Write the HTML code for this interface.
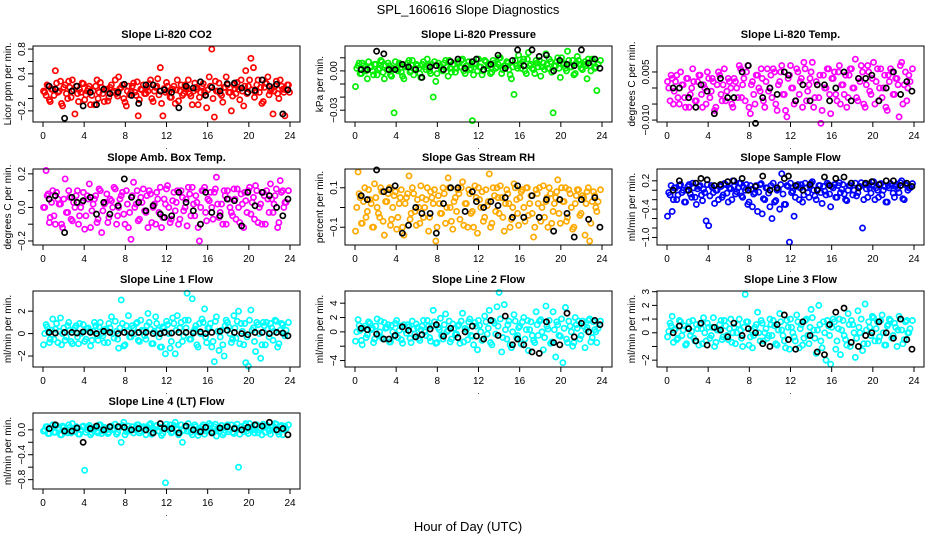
<!DOCTYPE html>
<html><head><meta charset="utf-8"><style>
body{margin:0;background:#fff;}
svg{display:block;font-family:"Liberation Sans",sans-serif;}
</style></head><body>
<svg id="chart" width="936" height="540" viewBox="0 0 936 540" xmlns="http://www.w3.org/2000/svg">
<text x="468" y="14" font-size="13" text-anchor="middle">SPL_160616  Slope Diagnostics</text>
<text x="468" y="531" font-size="13" text-anchor="middle">Hour of Day (UTC)</text>
</svg>
<script>
const hoursC=[0.05,0.3,0.5,0.7,0.95,1.2,1.45,1.7,1.9,2.15,2.4,2.6,2.85,3.1,3.35,3.55,3.8,4.05,4.3,4.5,4.75,5.0,5.25,5.45,5.7,5.95,6.2,6.4,6.65,6.9,7.15,7.35,7.6,7.85,8.1,8.3,8.55,8.8,9.05,9.25,9.5,9.75,10.0,10.2,10.45,10.7,10.95,11.15,11.4,11.65,11.9,12.1,12.35,12.6,12.85,13.05,13.3,13.55,13.8,14.0,14.25,14.5,14.75,14.95,15.2,15.45,15.7,15.9,16.15,16.4,16.65,16.85,17.1,17.35,17.6,17.8,18.05,18.3,18.55,18.75,19.0,19.25,19.5,19.7,19.95,20.2,20.45,20.65,20.9,21.15,21.4,21.6,21.85,22.1,22.35,22.55,22.8,23.05,23.3,23.5,23.75,23.95];
const hoursC2=[0.17,0.4,0.62,0.83,1.07,1.32,1.57,1.8,2.02,2.27,2.5,2.73,2.97,3.22,3.45,3.67,3.92,4.17,4.4,4.62,4.87,5.12,5.35,5.57,5.82,6.07,6.3,6.52,6.77,7.02,7.25,7.47,7.72,7.97,8.2,8.42,8.67,8.92,9.15,9.37,9.62,9.87,10.1,10.32,10.57,10.82,11.05,11.27,11.52,11.77,12.0,12.22,12.47,12.72,12.95,13.17,13.42,13.67,13.9,14.12,14.37,14.62,14.85,15.07,15.32,15.57,15.8,16.02,16.27,16.52,16.75,16.97,17.22,17.47,17.7,17.92,18.17,18.42,18.65,18.87,19.12,19.37,19.6,19.82,20.07,20.32,20.55,20.77,21.02,21.27,21.5,21.72,21.97,22.22,22.45,22.67,22.92,23.17,23.4,23.62,23.85];
const hoursB=[0.6,1.2,2.1,2.8,3.3,3.9,4.6,5.2,5.9,6.5,7.3,7.9,8.6,9.3,10.0,10.7,11.4,11.8,12.5,13.2,13.9,14.6,15.3,15.8,16.4,17.2,17.9,18.6,19.3,19.9,20.6,21.3,22.0,22.7,23.3,23.8];
const xTicks=[0,4,8,12,16,20,24];

const co2=[0.12,0.05,0.2,-0.05,0.15,0.45,0.1,0.28,-0.12,0.22,0.0,0.18,0.3,-0.25,0.08,0.15,0.25,-0.02,0.12,0.2,0.05,-0.1,0.3,0.1,0.18,-0.05,0.15,0.02,0.22,0.12,0.08,0.35,0.18,0.0,-0.12,0.2,0.1,0.25,0.05,-0.28,0.15,0.22,0.08,0.12,0.3,-0.05,0.18,0.32,0.5,-0.28,0.1,0.2,0.02,0.15,-0.08,0.3,0.12,0.05,0.22,0.18,0.08,-0.1,0.25,0.15,0.02,0.2,0.1,-0.15,0.35,0.8,-0.3,0.12,0.25,0.05,0.18,0.35,0.1,-0.2,0.22,0.08,0.15,0.3,-0.12,0.45,0.2,0.65,0.5,0.1,0.3,0.18,-0.05,0.25,0.35,0.12,-0.25,0.2,0.08,0.3,0.15,-0.28,0.22,0.1];
const co2S2=[0.1,0.22,-0.02,0.15,0.05,0.25,0.12,-0.08,0.18,0.08,0.28,0.02,0.14,0.2,-0.05,0.1,0.24,0.06,0.16,-0.1,0.12,0.2,0.0,0.26,0.08,0.14,-0.04,0.18,0.1,0.3,0.04,0.16,0.22,-0.06,0.12,0.06,0.2,0.1,0.27,-0.02,0.14,0.08,0.18,0.24,0.0,0.12,0.2,0.06,-0.08,0.16,0.26,0.1,0.02,0.2,0.14,-0.04,0.22,0.08,0.16,0.3,0.04,0.12,0.18,-0.1,0.1,0.24,0.06,0.14,0.2,0.0,0.28,0.12,0.08,-0.06,0.18,0.22,0.1,0.04,0.16,0.26,-0.02,0.12,0.2,0.08,0.3,0.14,0.02,0.22,0.1,-0.08,0.18,0.24,0.06,0.16,0.12,0.28,0.0,0.2,0.1,0.14,0.22];
const co2B=[0.2,0.15,-0.32,0.12,0.2,-0.12,0.1,-0.1,0.15,0.08,0.1,0.23,0.05,-0.08,0.22,0.22,0.12,0.14,0.1,-0.15,0.2,0.17,0.27,0.05,0.18,0.12,0.24,0.25,0.17,0.1,0.13,0.3,0.2,0.23,-0.25,0.14];
const pres=[-0.012,0.004,-0.002,0.006,0.001,-0.006,0.003,0.0,0.005,-0.003,0.002,0.007,-0.006,0.001,0.004,-0.004,-0.032,0.002,0.006,-0.001,-0.006,0.003,0.008,0.0,-0.003,0.005,0.002,-0.005,0.007,0.001,0.004,-0.002,-0.02,-0.008,0.006,0.003,0.0,0.008,-0.004,0.002,0.005,-0.001,0.007,0.003,0.009,-0.002,0.004,0.001,-0.038,0.006,0.0,0.003,-0.003,0.008,0.002,0.005,-0.001,0.006,0.003,0.01,-0.002,0.004,0.007,0.001,-0.006,-0.018,0.004,0.012,0.002,0.009,-0.002,0.014,0.005,0.001,0.008,0.003,-0.004,0.006,0.013,0.002,0.007,-0.032,0.004,0.01,-0.005,0.006,0.002,0.015,0.003,0.008,-0.002,0.011,0.005,0.001,0.007,-0.006,0.004,0.009,0.002,-0.015];
const presS2=[0.002,0.006,-0.002,0.004,0.0,0.007,0.003,-0.003,0.005,0.001,0.008,-0.001,0.004,0.006,-0.003,0.002,0.007,0.0,0.005,-0.004,0.003,0.006,-0.001,0.008,0.002,0.004,-0.002,0.005,0.003,0.009,0.0,0.005,0.007,-0.002,0.004,0.001,0.006,0.003,0.008,-0.001,0.005,0.002,0.006,0.008,0.0,0.004,0.007,0.002,-0.003,0.005,0.009,0.003,0.0,0.007,0.004,-0.002,0.008,0.002,0.005,0.01,0.001,0.004,0.006,-0.003,0.003,0.008,0.002,0.005,0.007,0.0,0.009,0.004,0.002,-0.002,0.006,0.008,0.003,0.001,0.005,0.009,-0.001,0.004,0.007,0.002,0.01,0.005,0.0,0.008,0.003,-0.003,0.006,0.008,0.002,0.005,0.004,0.009,0.0,0.007,0.003,0.005,0.008];
const presB=[0.001,0.001,0.015,0.013,0.001,0.001,0.005,0.003,0.001,-0.005,0.003,0.004,0.001,0.007,0.009,0.002,0.007,0.009,0.001,0.005,0.012,0.002,0.008,0.016,0.004,0.016,0.011,0.012,0.0,0.008,0.005,0.004,0.016,0.006,0.009,0.002];
const temp=[0.002,-0.004,0.003,-0.001,0.004,-0.005,0.001,-0.003,0.003,-0.006,0.0,0.002,-0.004,0.004,-0.002,0.001,-0.005,0.003,-0.001,0.002,-0.006,0.005,-0.002,0.001,-0.004,0.003,0.0,-0.006,0.002,-0.003,0.006,0.001,-0.004,0.007,-0.008,0.002,-0.005,0.004,-0.001,0.003,-0.006,0.006,0.0,-0.003,0.005,-0.007,0.002,0.007,-0.002,-0.009,0.004,0.0,-0.005,0.006,-0.002,0.003,0.008,-0.004,0.001,0.005,-0.006,0.002,-0.003,-0.011,0.004,0.0,0.006,-0.008,0.003,-0.002,0.005,-0.005,0.001,0.004,-0.003,0.006,0.0,0.009,-0.004,0.002,0.005,-0.006,0.007,-0.001,0.003,-0.005,0.006,0.0,-0.003,0.004,-0.007,0.002,0.005,-0.002,0.003,-0.009,0.008,0.001,-0.004,0.004];
const tempS2=[0.0,0.004,-0.005,0.002,-0.003,0.005,0.001,-0.006,0.003,-0.002,0.006,-0.004,0.002,0.004,-0.006,0.0,0.005,-0.003,0.003,-0.007,0.001,0.004,-0.004,0.006,-0.001,0.002,-0.005,0.003,0.0,0.007,-0.003,0.003,0.005,-0.006,0.001,-0.002,0.004,0.0,0.006,-0.004,0.002,-0.001,0.004,0.006,-0.005,0.001,0.005,-0.002,-0.007,0.003,0.007,0.0,-0.004,0.005,0.002,-0.006,0.006,-0.001,0.003,0.008,-0.003,0.001,0.004,-0.007,0.0,0.006,-0.002,0.003,0.005,-0.004,0.007,0.001,-0.002,-0.006,0.004,0.006,0.0,-0.003,0.003,0.007,-0.005,0.001,0.005,-0.002,0.008,0.002,-0.004,0.006,0.0,-0.006,0.004,0.006,-0.002,0.003,0.001,0.007,-0.005,0.005,0.0,0.002,0.006];
const tempB=[0.0,0.0,-0.003,-0.006,0.001,-0.001,-0.008,0.003,-0.003,-0.003,0.005,0.007,-0.011,-0.003,0.0,-0.002,0.005,0.004,-0.004,0.001,-0.004,0.001,0.001,-0.004,0.0,0.005,-0.004,0.003,0.003,0.004,-0.004,0.0,0.005,-0.002,0.002,-0.001];
const amb=[0.0,0.22,0.08,-0.06,0.1,-0.1,0.05,0.02,-0.12,0.17,-0.03,0.06,-0.08,0.0,0.1,-0.05,0.03,-0.13,0.07,0.14,-0.02,0.05,-0.09,0.11,-0.15,0.02,0.08,-0.06,0.04,0.12,-0.1,0.0,0.07,-0.04,0.1,-0.12,-0.19,0.15,0.02,-0.08,0.06,0.11,-0.03,-0.12,0.08,0.0,-0.1,0.05,0.12,-0.06,0.02,0.13,-0.09,0.04,-0.02,0.1,-0.07,0.06,0.0,-0.11,0.08,0.12,-0.05,0.03,-0.2,0.1,0.12,-0.08,0.04,0.0,0.09,0.18,-0.06,0.02,0.1,-0.1,0.05,-0.03,0.11,-0.07,0.0,0.08,-0.12,0.04,0.1,-0.04,0.06,0.13,-0.09,0.02,0.09,-0.1,0.05,0.14,-0.03,0.07,-0.12,0.16,0.1,0.03];
const ambS2=[0.0,0.07,-0.09,0.03,-0.05,0.09,0.02,-0.1,0.05,-0.03,0.1,-0.07,0.03,0.07,-0.1,0.0,0.09,-0.05,0.05,-0.12,0.02,0.07,-0.07,0.1,-0.02,0.03,-0.09,0.05,0.0,0.11,-0.05,0.05,0.09,-0.1,0.02,-0.03,0.07,0.0,0.1,-0.07,0.03,-0.02,0.07,0.1,-0.09,0.02,0.09,-0.03,-0.12,0.05,0.11,0.0,-0.07,0.09,0.03,-0.1,0.1,-0.02,0.05,0.12,-0.05,0.02,0.07,-0.12,0.0,0.1,-0.03,0.05,0.09,-0.07,0.11,0.02,-0.03,-0.1,0.07,0.1,0.0,-0.05,0.05,0.11,-0.09,0.02,0.09,-0.03,0.12,0.03,-0.07,0.1,0.0,-0.1,0.07,0.1,-0.03,0.05,0.02,0.11,-0.09,0.09,0.0,0.03,0.1];
const ambB=[0.05,0.07,-0.15,0.06,0.03,0.04,0.06,-0.04,0.03,-0.04,0.01,0.17,0.06,0.03,-0.02,0.01,-0.04,-0.06,-0.05,0.09,0.03,-0.02,-0.1,0.09,-0.03,-0.05,0.05,0.04,-0.11,0.09,0.01,0.09,0.07,0.0,-0.05,0.05];
const rh=[-0.12,0.18,0.05,-0.08,0.1,-0.02,0.04,-0.1,0.12,0.0,-0.05,0.08,-0.14,0.03,0.1,-0.06,0.06,-0.11,0.02,0.09,-0.14,0.05,0.16,-0.03,0.07,-0.09,0.0,0.11,-0.05,0.04,-0.12,0.08,0.02,-0.17,0.06,-0.03,0.1,-0.08,0.15,0.0,-0.11,0.05,0.09,-0.06,0.13,0.02,-0.1,0.07,-0.02,0.11,-0.13,0.04,0.08,-0.05,0.01,0.17,-0.08,0.06,0.1,-0.03,0.05,-0.12,0.09,0.02,-0.06,0.12,0.04,-0.09,0.08,0.0,0.1,-0.04,0.06,-0.15,0.09,0.02,-0.07,0.11,0.03,-0.1,0.07,-0.02,0.05,0.14,-0.08,0.03,0.1,-0.05,0.07,-0.11,0.02,0.09,-0.04,0.06,-0.14,0.08,-0.17,0.03,0.06,-0.02];
const rhS2=[0.0,0.07,-0.08,0.03,-0.05,0.09,0.02,-0.1,0.05,-0.03,0.1,-0.07,0.03,0.07,-0.09,0.0,0.08,-0.05,0.05,-0.1,0.02,0.07,-0.06,0.1,-0.02,0.04,-0.08,0.05,0.0,0.1,-0.05,0.05,0.09,-0.1,0.02,-0.03,0.07,0.0,0.1,-0.07,0.03,-0.02,0.07,0.1,-0.09,0.02,0.09,-0.03,-0.1,0.05,0.1,0.0,-0.07,0.09,0.03,-0.1,0.1,-0.02,0.05,0.11,-0.05,0.02,0.07,-0.1,0.0,0.1,-0.03,0.05,0.09,-0.07,0.1,0.02,-0.03,-0.1,0.07,0.1,0.0,-0.05,0.05,0.1,-0.08,0.02,0.08,-0.03,0.1,0.03,-0.07,0.09,0.0,-0.1,0.06,0.09,-0.03,0.05,0.02,0.1,-0.08,0.08,0.0,0.03,0.09];
const rhB=[0.06,0.04,0.19,0.08,0.09,0.11,-0.13,-0.09,0.0,-0.03,-0.03,-0.13,0.02,0.1,0.1,-0.02,0.08,0.03,0.0,0.03,0.01,0.05,-0.05,0.11,-0.05,0.06,-0.05,0.04,-0.12,0.04,-0.03,-0.15,0.04,-0.06,0.05,-0.1];
const sflow=[-0.55,-0.1,-0.45,0.05,-0.2,0.1,-0.05,-0.25,0.0,0.12,-0.15,0.05,-0.3,0.08,-0.1,0.02,-0.65,-0.75,0.1,-0.05,0.0,-0.2,0.08,-0.1,0.12,-0.25,0.03,0.2,-0.08,0.05,0.15,-0.15,0.0,-0.3,0.1,-0.35,-0.05,-0.45,0.12,-0.5,-0.2,0.05,-0.35,-0.6,-0.25,0.0,-0.4,0.35,-0.3,0.1,-1.1,-0.05,-0.55,0.08,-0.2,0.12,-0.1,0.05,-0.15,0.15,0.0,-0.2,0.1,-0.05,0.08,-0.1,0.12,-0.35,0.05,-0.15,0.1,-0.05,0.12,-0.2,0.0,0.1,-0.1,0.15,-0.05,0.08,-0.8,0.12,-0.15,0.05,0.1,-0.2,0.0,0.12,-0.1,0.08,-0.25,0.05,0.1,-0.15,0.12,-0.05,0.2,-0.2,0.1,0.05];
const sflowS2=[-0.05,0.1,-0.2,0.05,-0.1,0.12,0.0,-0.25,0.08,-0.08,0.15,-0.15,0.03,0.1,-0.22,-0.05,0.12,-0.12,0.06,-0.28,0.0,0.1,-0.15,0.14,-0.06,0.05,-0.2,0.08,-0.03,0.15,-0.12,0.06,0.12,-0.25,0.02,-0.08,0.1,-0.04,0.14,-0.18,0.05,-0.06,0.1,0.15,-0.22,0.02,0.12,-0.08,-0.3,0.08,0.15,-0.02,-0.15,0.12,0.05,-0.25,0.15,-0.05,0.08,0.18,-0.12,0.02,0.1,-0.28,-0.02,0.15,-0.08,0.08,0.12,-0.15,0.16,0.02,-0.08,-0.22,0.1,0.15,0.0,-0.12,0.06,0.16,-0.2,0.03,0.12,-0.06,0.18,0.05,-0.15,0.14,0.0,-0.25,0.1,0.14,-0.06,0.08,0.04,0.16,-0.18,0.12,0.0,0.05,0.14];
const sflowB=[0.0,0.2,0.0,0.15,0.25,0.22,0.1,0.12,0.18,0.2,0.25,0.0,0.08,0.3,0.0,0.05,0.25,0.3,0.1,0.0,0.12,0.0,0.28,0.1,0.25,0.28,0.15,0.05,0.15,0.18,0.12,0.2,0.2,0.1,0.15,0.08];
const line1=[-1.0,0.8,0.2,-0.5,1.3,0.4,-0.8,1.4,0.0,-0.6,0.7,0.3,-0.9,0.5,-0.3,0.9,0.1,-0.7,0.4,0.2,-0.6,1.0,-0.2,0.6,0.0,-0.8,0.3,0.9,1.5,-0.4,0.2,-1.3,3.0,-1.1,0.7,1.6,-0.3,0.5,0.9,-0.6,1.2,0.2,-0.5,1.8,0.4,-0.9,1.5,0.3,-1.2,0.6,-1.8,0.8,-1.3,1.4,-1.8,1.6,0.5,-0.7,1.2,3.6,-0.5,3.1,0.4,-1.0,0.9,1.3,2.2,-0.8,0.5,-1.2,-2.5,1.5,-1.5,0.3,-2.0,1.2,0.6,-0.8,1.6,-0.4,2.0,0.9,-1.0,-2.6,-2.9,2.1,0.5,-1.6,0.8,-2.2,1.0,-1.0,0.4,0.9,-0.6,1.2,-1.2,0.3,0.8,-0.2];
const line1S2=[0.0,0.6,-0.8,0.3,-0.5,0.9,0.2,-1.0,0.5,-0.3,1.0,-0.7,0.3,0.7,-0.9,0.0,0.8,-0.5,0.5,-1.1,0.2,0.7,-0.6,1.0,-0.2,0.4,-0.8,0.5,0.0,1.1,-0.5,0.5,0.9,-1.0,0.2,-0.3,0.7,0.0,1.0,-0.7,0.3,-0.2,0.7,1.0,-0.9,0.2,0.9,-0.3,-1.2,0.5,1.1,0.0,-0.7,0.9,0.3,-1.0,1.0,-0.2,0.5,1.2,-0.5,0.2,0.7,-1.2,0.0,1.0,-0.3,0.5,0.9,-0.7,1.1,0.2,-0.3,-1.0,0.7,1.0,0.0,-0.5,0.5,1.1,-0.9,0.2,0.9,-0.3,1.2,0.3,-0.7,1.0,0.0,-1.0,0.7,1.0,-0.3,0.5,0.2,1.1,-0.9,0.9,0.0,0.3,1.0];
const line1B=[0.1,0.05,0.1,0.1,0.05,0.15,0.1,0.0,0.2,0.1,0.0,0.1,0.05,0.1,0.1,0.0,0.0,0.1,0.05,0.1,0.1,0.05,0.15,0.0,0.1,0.2,0.3,0.1,0.0,-0.1,0.1,0.1,0.0,0.1,0.05,-0.2];
const line2=[-1.3,1.7,0.2,-1.8,0.8,-0.4,1.2,0.5,-1.0,1.8,0.0,-0.8,1.3,0.6,-1.4,0.9,-0.6,1.6,0.2,-1.1,1.0,-0.2,0.7,-1.5,0.4,1.1,-0.9,0.3,1.6,-0.5,0.8,-1.3,3.0,-1.6,0.6,1.9,-1.0,2.5,0.2,-1.4,1.1,-0.4,0.8,-1.6,2.6,0.5,-1.1,1.8,-0.6,1.3,-2.5,0.9,-1.2,2.2,-0.3,3.0,-1.8,1.2,3.5,5.5,-2.8,3.8,-1.0,1.5,-2.2,2.4,-0.8,0.6,-1.7,2.0,0.3,-2.6,1.4,-1.2,2.8,-0.5,1.7,-2.5,3.6,0.4,-1.6,2.8,-3.5,1.0,-0.6,-4.3,3.4,-1.5,0.8,-2.0,2.0,0.5,-1.0,1.5,-2.2,0.6,1.8,-0.8,0.3,-1.5];
const line2S2=[0.0,0.9,-1.2,0.5,-0.8,1.4,0.3,-1.5,0.8,-0.5,1.5,-1.0,0.5,1.0,-1.4,0.0,1.2,-0.8,0.8,-1.6,0.3,1.0,-0.9,1.5,-0.3,0.6,-1.2,0.8,0.0,1.6,-0.8,0.8,1.4,-1.5,0.3,-0.5,1.0,0.0,1.5,-1.0,0.5,-0.3,1.0,1.5,-1.4,0.3,1.4,-0.5,-1.8,0.8,1.6,0.0,-1.0,1.4,0.5,-1.5,1.5,-0.3,0.8,1.8,-0.8,0.3,1.0,-1.8,0.0,1.5,-0.5,0.8,1.4,-1.0,1.6,0.3,-0.5,-1.5,1.0,1.5,0.0,-0.8,0.8,1.6,-1.4,0.3,1.4,-0.5,1.8,0.5,-1.0,1.5,0.0,-1.5,1.0,1.5,-0.5,0.8,0.3,1.6,-1.4,1.4,0.0,0.5,1.5];
const line2B=[0.5,0.3,-0.3,-1.0,-1.0,-0.5,0.7,0.2,-0.7,-0.4,0.4,1.0,-0.6,0.5,-0.8,0.0,0.8,-0.6,-1.0,1.6,-0.5,2.2,-1.8,-1.0,-1.8,-2.8,-3.0,1.4,-1.5,-1.8,2.6,-0.7,1.2,0.0,1.6,1.0];
const line3=[-0.3,0.7,1.2,0.2,-0.5,0.9,-0.2,0.5,-0.8,0.8,0.1,-0.4,0.6,-0.9,0.3,1.1,-0.6,0.4,-0.2,1.1,-0.7,0.2,0.9,-0.3,0.5,-0.5,1.0,0.0,-0.8,0.6,0.2,-1.0,2.8,0.8,-0.3,-1.1,0.4,1.5,-0.6,0.7,0.0,-0.4,1.0,-0.2,0.5,-0.9,1.4,0.2,-0.6,0.9,-1.2,0.4,-0.3,1.3,-1.1,0.6,-0.4,1.0,-0.8,1.7,0.2,-1.5,2.0,-0.6,0.8,-2.0,0.5,-2.3,1.0,-1.2,0.3,-1.6,0.9,-0.5,1.4,-1.0,0.6,-1.8,1.6,0.0,-1.3,2.1,-0.8,0.4,1.2,-0.6,0.8,-0.3,1.3,-0.9,0.5,1.0,-0.4,0.7,-1.0,1.2,0.2,-0.5,0.9,0.0];
const line3S2=[0.1,0.5,-0.7,0.3,-0.4,0.8,0.2,-0.9,0.4,-0.2,0.9,-0.6,0.3,0.6,-0.8,0.0,0.7,-0.4,0.4,-1.0,0.2,0.6,-0.5,0.9,-0.2,0.3,-0.7,0.4,0.0,1.0,-0.4,0.4,0.8,-0.9,0.2,-0.2,0.6,0.0,0.9,-0.6,0.3,-0.2,0.6,0.9,-0.8,0.2,0.8,-0.2,-1.1,0.4,1.0,0.0,-0.6,0.8,0.3,-0.9,0.9,-0.2,0.4,1.1,-0.4,0.2,0.6,-1.1,0.0,0.9,-0.2,0.4,0.8,-0.6,1.0,0.2,-0.2,-0.9,0.6,0.9,0.0,-0.4,0.4,1.0,-0.8,0.2,0.8,-0.2,1.1,0.3,-0.6,0.9,0.0,-0.9,0.6,0.9,-0.2,0.4,0.2,1.0,-0.8,0.8,0.0,0.3,0.9];
const line3B=[0.0,0.5,0.3,-0.6,0.7,-0.9,0.4,0.2,-0.3,0.7,-0.2,0.3,0.0,-0.8,-1.0,0.6,1.3,-0.5,-1.2,0.8,-0.2,-1.4,-1.6,0.6,1.5,1.8,-0.7,-1.0,-0.2,0.0,0.8,0.0,-0.4,1.0,-0.5,-1.2];
const line4=[-0.02,0.05,-0.06,0.02,0.08,-0.04,0.03,-0.08,0.06,0.0,-0.05,0.04,0.1,-0.03,0.02,-0.07,0.05,-0.65,0.0,0.07,-0.05,0.03,-0.02,0.08,-0.06,0.04,0.0,-0.04,0.06,0.02,-0.07,0.05,-0.2,0.12,-0.03,0.06,0.0,-0.05,0.04,0.08,-0.02,0.05,-0.08,0.03,0.1,-0.04,0.06,-0.02,0.04,-0.06,-0.85,0.02,0.08,-0.03,0.12,0.0,-0.05,-0.2,0.06,-0.02,0.04,-0.08,0.08,0.0,-0.04,0.05,-0.07,0.03,0.1,-0.02,0.05,-0.1,0.02,0.07,-0.05,0.04,-0.03,0.08,-0.06,0.02,-0.6,0.05,-0.03,0.1,-0.06,0.04,0.0,0.07,-0.05,0.03,0.09,-0.04,0.02,-0.07,0.06,0.1,-0.03,0.05,-0.08,0.06];
const line4S2=[0.0,0.05,-0.06,0.02,-0.04,0.07,0.01,-0.08,0.04,-0.02,0.08,-0.05,0.02,0.05,-0.07,0.0,0.06,-0.04,0.04,-0.08,0.01,0.05,-0.05,0.08,-0.02,0.03,-0.06,0.04,0.0,0.09,-0.04,0.04,0.07,-0.08,0.01,-0.02,0.05,0.0,0.08,-0.05,0.02,-0.01,0.05,0.08,-0.07,0.01,0.07,-0.02,-0.09,0.04,0.09,0.0,-0.05,0.07,0.02,-0.08,0.08,-0.01,0.04,0.1,-0.04,0.01,0.05,-0.09,0.0,0.08,-0.02,0.04,0.07,-0.05,0.09,0.01,-0.02,-0.08,0.05,0.08,0.0,-0.04,0.04,0.09,-0.07,0.01,0.07,-0.02,0.1,0.02,-0.05,0.08,0.0,-0.08,0.05,0.08,-0.02,0.04,0.01,0.09,-0.07,0.07,0.0,0.02,0.08];
const line4B=[0.02,0.08,-0.02,-0.02,0.03,-0.2,0.02,0.06,0.0,0.05,0.05,0.04,0.0,0.02,0.0,-0.05,0.1,0.02,0.02,-0.05,0.06,0.0,-0.03,0.04,-0.05,0.03,0.05,0.02,0.0,0.04,0.08,0.06,0.12,0.0,0.02,-0.08];

const panels=[
 {name:'co2',title:'Slope Li-820 CO2',yl:'Licor ppm per min.',col:0,row:0,ymin:-0.38,ymax:0.85,ticks:[-0.2,0,0.2,0.4,0.6,0.8],labs:['-0.2','','','0.4','','0.8'],c:'#ff0000',v:co2,v2:co2S2,b:co2B},
 {name:'pressure',title:'Slope Li-820 Pressure',yl:'kPa per min.',col:1,row:0,ymin:-0.039,ymax:0.019,ticks:[-0.03,-0.02,-0.01,0,0.01],labs:['-0.03','','','0.00',''],c:'#00ee00',v:pres,v2:presS2,b:presB},
 {name:'li820-temp',title:'Slope Li-820 Temp.',yl:'degrees C per min.',col:2,row:0,ymin:-0.0106,ymax:0.0131,ticks:[-0.01,-0.005,0,0.005],labs:['-0.010','','','0.005'],c:'#ff00ff',v:temp,v2:tempS2,b:tempB},
 {name:'amb-box-temp',title:'Slope Amb. Box Temp.',yl:'degrees C per min.',col:0,row:1,ymin:-0.224,ymax:0.229,ticks:[-0.2,-0.1,0,0.1,0.2],labs:['-0.2','','0.0','','0.2'],c:'#ff00ff',v:amb,v2:ambS2,b:ambB},
 {name:'gas-stream-rh',title:'Slope Gas Stream RH',yl:'percent per min.',col:1,row:1,ymin:-0.19,ymax:0.195,ticks:[-0.1,0,0.1],labs:['-0.1','','0.1'],c:'#ffaa00',v:rh,v2:rhS2,b:rhB},
 {name:'sample-flow',title:'Slope Sample Flow',yl:'ml/min per min.',col:2,row:1,ymin:-1.16,ymax:0.45,ticks:[-1.0,-0.8,-0.6,-0.4,-0.2,0,0.2],labs:['-1.0','','','-0.4','','','0.2'],c:'#0000ff',v:sflow,v2:sflowS2,b:sflowB},
 {name:'line1-flow',title:'Slope Line 1 Flow',yl:'ml/min per min.',col:0,row:2,ymin:-2.98,ymax:3.8,ticks:[-2,0,2],labs:['-2','0','2'],c:'#00ffff',v:line1,v2:line1S2,b:line1B},
 {name:'line2-flow',title:'Slope Line 2 Flow',yl:'ml/min per min.',col:1,row:2,ymin:-4.9,ymax:5.7,ticks:[-4,-2,0,2,4],labs:['-4','','0','2','4'],c:'#00ffff',v:line2,v2:line2S2,b:line2B},
 {name:'line3-flow',title:'Slope Line 3 Flow',yl:'ml/min per min.',col:2,row:2,ymin:-2.5,ymax:3.05,ticks:[-2,-1,0,1,2,3],labs:['-2','','0','1','2','3'],c:'#00ffff',v:line3,v2:line3S2,b:line3B},
 {name:'line4-flow',title:'Slope Line 4 (LT) Flow',yl:'ml/min per min.',col:0,row:3,ymin:-0.95,ymax:0.27,ticks:[-0.8,-0.6,-0.4,-0.2,0],labs:['-0.8','','-0.4','','0.0'],c:'#00ffff',v:line4,v2:line4S2,b:line4B}
];
const NS='http://www.w3.org/2000/svg';
const svg=document.getElementById('chart');
const colX=[33,345,657], rowY=[46,169,291,413], W=267, H=76;
function mk(tag,attrs,parent){const e=document.createElementNS(NS,tag);for(const k in attrs)e.setAttribute(k,attrs[k]);parent.appendChild(e);return e;}
panels.forEach(p=>{
  const x0=colX[p.col], y0=rowY[p.row];
  const g=mk('g',{},svg);
  
  
  const sx=h=>x0+10+h*(247/24);
  const sy=v=>y0+H-(v-p.ymin)/(p.ymax-p.ymin)*H;
  const t=mk('text',{x:x0+W/2,y:y0-8,'font-size':11,'font-weight':'bold','text-anchor':'middle'},g);
  t.textContent=p.title;
  
  
  const pts=mk('g',{fill:'none','stroke-width':1.7},g);
  
  
  const n=Math.min(p.v.length,hoursC.length);
  for(let i=0;i<n;i++){const c=mk('circle',{cx:sx(hoursC[i]),cy:sy(p.v[i]),r:2.6,stroke:p.c},pts);
    
    }
  const n2=Math.min(p.v2.length,hoursC2.length);
  for(let i=0;i<n2;i++){const c=mk('circle',{cx:sx(hoursC2[i]),cy:sy(p.v2[i]),r:2.6,stroke:p.c},pts);
    
    }
  const nb=Math.min(p.b.length,hoursB.length);
  for(let i=0;i<nb;i++){const c=mk('circle',{cx:sx(hoursB[i]),cy:sy(p.b[i]),r:2.6,stroke:'#000'},pts);
    
    }
  const box=mk('rect',{x:x0,y:y0,width:W,height:H,fill:'none',stroke:'#000','stroke-width':1},g);
  
  
  xTicks.forEach(h=>{
    mk('line',{x1:sx(h),x2:sx(h),y1:y0+H,y2:y0+H+5,stroke:'#000'},g);
    const tl=mk('text',{x:sx(h),y:y0+H+17,'font-size':10,'text-anchor':'middle'},g);
    tl.textContent=h;
    
    
  });
  const dot=mk('text',{x:x0+W/2,y:y0+H+27,'font-size':8,'text-anchor':'middle'},g);dot.textContent='.';
  p.ticks.forEach((v,i)=>{
    mk('line',{x1:x0,x2:x0-5,y1:sy(v),y2:sy(v),stroke:'#000'},g);
    if(p.labs[i]){
      const tl=mk('text',{x:x0-8,y:sy(v),'font-size':10,'text-anchor':'middle',transform:`rotate(-90 ${x0-8} ${sy(v)})`},g);
      tl.textContent=p.labs[i].replace('-','\u2212');
      
      
    }
  });
  const yl=mk('text',{x:x0-22,y:y0+H/2,'font-size':10,'text-anchor':'middle',transform:`rotate(-90 ${x0-22} ${y0+H/2})`},g);
  yl.textContent=p.yl;
  
  
});
</script>
</body></html>
